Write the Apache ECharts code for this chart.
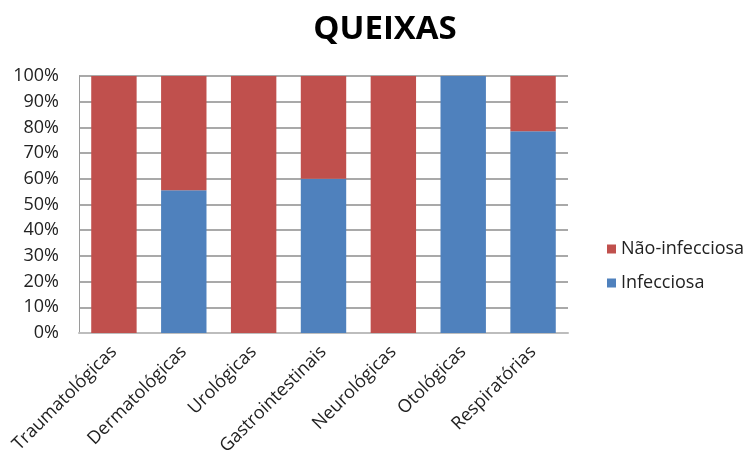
<!DOCTYPE html>
<html>
<head>
<meta charset="utf-8">
<script src="https://cdn.jsdelivr.net/npm/echarts@6/dist/echarts.min.js"></script>
<style>
  html, body { margin: 0; padding: 0; background: #fff; }
  #chart { width: 750px; height: 466px; }
</style>
</head>
<body>
<div id="chart"></div>
<script>
const categories = ["Traumatológicas", "Dermatológicas", "Urológicas", "Gastrointestinais", "Neurológicas", "Otológicas", "Respiratórias"];
const infecciosa = [0, 55.5, 0, 60, 0, 100, 78.5];
const naoInfecciosa = [100, 44.5, 100, 40, 100, 0, 21.5];
const yTicks = [0, 10, 20, 30, 40, 50, 60, 70, 80, 90, 100];

const font = "'Open Sans', sans-serif";
const chart = echarts.init(document.getElementById("chart"));

chart.setOption({
  backgroundColor: "#ffffff",
  animation: false,
  title: {
    text: "QUEIXAS",
    left: 380,
    textAlign: "center",
    top: 8,
    textStyle: { fontFamily: font, fontSize: 33, fontWeight: "bold", color: "#000" },
  },
  legend: {
    orient: "vertical",
    left: 602,
    top: 235,
    itemWidth: 9,
    itemHeight: 9,
    itemGap: 16,
    icon: "rect",
    data: ["Não-infecciosa", "Infecciosa"],
    textStyle: { fontFamily: font, fontSize: 18, color: "#222" },
  },
  grid: { left: 79, right: 182, top: 76, bottom: 133 },
  xAxis: {
    type: "category",
    data: categories,
    axisTick: { show: false },
    axisLine: { lineStyle: { color: "#bdbdbd", width: 2 } },
    axisLabel: {
      rotate: 45,
      interval: 0,
      margin: 16,
      fontFamily: font,
      fontSize: 18,
      color: "#222",
    },
  },
  yAxis: {
    type: "value",
    min: yTicks[0],
    max: yTicks[yTicks.length - 1],
    interval: 10,
    axisLine: { show: true, lineStyle: { color: "#9a9a9a" } },
    axisTick: { show: false },
    splitLine: { lineStyle: { color: "#8c8c8c", width: 1.5 } },
    axisLabel: {
      margin: 20,
      fontFamily: font,
      fontSize: 18,
      color: "#222",
      formatter: "{value}%",
    },
  },
  series: [
    {
      name: "Infecciosa",
      type: "bar",
      stack: "total",
      data: infecciosa,
      barCategoryGap: "35%",
      itemStyle: { color: "#4f81bd" },
    },
    {
      name: "Não-infecciosa",
      type: "bar",
      stack: "total",
      data: naoInfecciosa,
      barCategoryGap: "35%",
      itemStyle: { color: "#c0504d" },
    },
  ],
});
</script>
</body>
</html>
